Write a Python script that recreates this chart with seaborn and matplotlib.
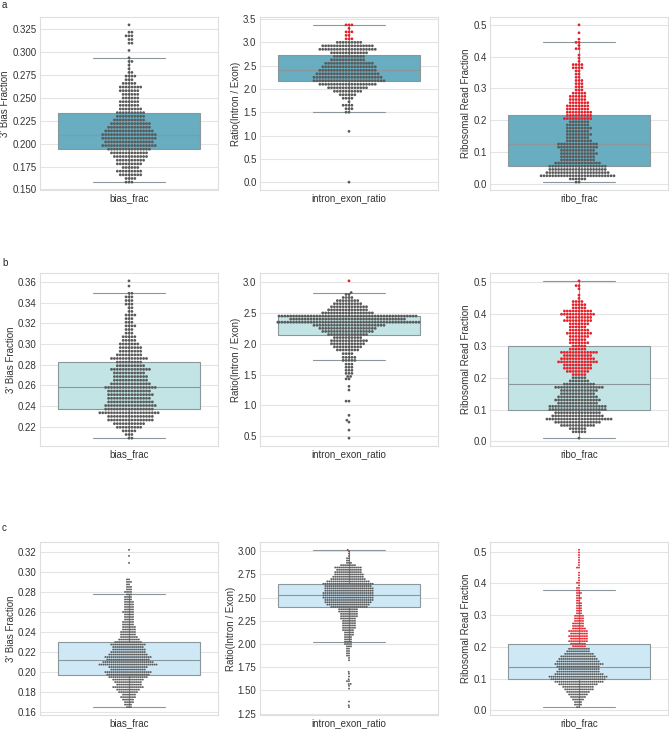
import numpy as np
import pandas as pd
import seaborn as sns
import matplotlib.pyplot as plt
from matplotlib.ticker import MultipleLocator

sns.set_style('whitegrid', {'axes.edgecolor': '#dedede', 'grid.color': '#e4e4e4'})
plt.rcParams['font.family'] = ['Liberation Sans', 'DejaVu Sans']
plt.rcParams['font.size'] = 7

# ---- data: swarm rows (value, number of samples at that value) ----
# row a
bias_a_vals = [0.158, 0.162, 0.166, 0.170, 0.174, 0.178, 0.182, 0.186, 0.190, 0.194,
               0.198, 0.202, 0.206, 0.210, 0.214, 0.218, 0.222, 0.226, 0.230, 0.234,
               0.238, 0.242, 0.246, 0.250, 0.254, 0.258, 0.262, 0.266, 0.270, 0.274,
               0.278, 0.282, 0.286, 0.290, 0.294, 0.302, 0.310, 0.314, 0.318, 0.322, 0.330]
bias_a_counts = [3, 4, 8, 9, 6, 9, 10, 12, 13, 15,
                 19, 17, 19, 19, 17, 15, 14, 11, 10, 10,
                 8, 7, 7, 6, 6, 7, 8, 5, 3, 4,
                 2, 1, 1, 2, 1, 1, 2, 2, 3, 2, 1]

intron_a_vals = [0.0, 1.09, 1.50, 1.575, 1.65, 1.725, 1.80, 1.875, 1.95, 2.025,
                 2.10, 2.175, 2.25, 2.325, 2.40, 2.475, 2.55, 2.625, 2.70, 2.775,
                 2.85, 2.925, 3.00, 3.075, 3.15, 3.225, 3.30, 3.375]
intron_a_counts = [1, 1, 2, 3, 4, 1, 4, 6, 10, 14,
                   20, 25, 24, 22, 20, 19, 17, 12, 11, 13,
                   20, 18, 9, 3, 2, 3, 1, 3]

ribo_a_vals = [0.005, 0.015, 0.025, 0.035, 0.045, 0.055, 0.065, 0.075, 0.085, 0.095,
               0.105, 0.115, 0.125, 0.135, 0.145, 0.155, 0.165, 0.175, 0.185, 0.195,
               0.205, 0.215, 0.225, 0.235, 0.245, 0.255, 0.265, 0.275, 0.285, 0.295,
               0.305, 0.315, 0.325, 0.335, 0.345, 0.355, 0.365, 0.375, 0.385, 0.395,
               0.405, 0.425, 0.435, 0.445, 0.455, 0.475, 0.500]
ribo_a_counts = [2, 6, 26, 22, 20, 20, 16, 12, 12, 13,
                 12, 14, 14, 9, 8, 9, 8, 9, 8, 7,
                 10, 9, 9, 8, 8, 7, 6, 6, 5, 3,
                 3, 3, 3, 2, 2, 2, 4, 4, 1, 1,
                 1, 2, 1, 2, 1, 1, 1]

# row b
bias_b_vals = [0.209, 0.2125, 0.216, 0.2195, 0.223, 0.2265, 0.230, 0.2335, 0.237, 0.2405,
               0.244, 0.2475, 0.251, 0.2545, 0.258, 0.2615, 0.265, 0.2685, 0.272, 0.2755,
               0.279, 0.2825, 0.286, 0.2895, 0.293, 0.2965, 0.300, 0.3035, 0.307, 0.3105,
               0.314, 0.3175, 0.321, 0.3245, 0.328, 0.3315, 0.335, 0.3385, 0.342, 0.3455,
               0.349, 0.356, 0.361]
bias_b_counts = [2, 3, 5, 9, 11, 16, 16, 21, 17, 18,
                 16, 15, 16, 15, 18, 14, 12, 12, 11, 14,
                 10, 9, 13, 9, 8, 8, 7, 5, 5, 3,
                 3, 4, 3, 3, 4, 2, 2, 3, 3, 3,
                 2, 1, 1]

intron_b_vals = [0.47, 0.60, 0.73, 0.76, 0.84, 1.07, 1.25, 1.31, 1.43, 1.47,
                 1.52, 1.57, 1.62, 1.67, 1.73, 1.78, 1.84, 1.90, 1.95, 2.00,
                 2.05, 2.10, 2.15, 2.20, 2.25, 2.30, 2.35, 2.40, 2.45, 2.50,
                 2.55, 2.60, 2.65, 2.70, 2.75, 2.80, 2.83, 3.02]
intron_b_counts = [1, 1, 1, 1, 1, 2, 1, 1, 2, 2,
                   3, 3, 3, 3, 5, 5, 4, 8, 10, 12,
                   13, 10, 14, 18, 20, 25, 50, 40, 48, 18,
                   14, 13, 10, 8, 4, 2, 1, 1]

ribo_b_vals = [0.01, 0.03, 0.04, 0.05, 0.06, 0.07, 0.08, 0.09, 0.10, 0.11,
               0.12, 0.13, 0.14, 0.15, 0.16, 0.17, 0.18, 0.19, 0.20, 0.21,
               0.22, 0.23, 0.24, 0.25, 0.26, 0.27, 0.28, 0.29, 0.30, 0.31,
               0.32, 0.33, 0.34, 0.35, 0.36, 0.37, 0.38, 0.39, 0.40, 0.41,
               0.42, 0.43, 0.44, 0.45, 0.46, 0.48, 0.49, 0.505]
ribo_b_counts = [1, 5, 6, 12, 16, 23, 18, 16, 20, 20,
                 14, 16, 14, 12, 13, 17, 11, 7, 5, 5,
                 8, 10, 10, 14, 12, 10, 13, 6, 5, 7,
                 6, 7, 9, 7, 6, 7, 10, 9, 12, 10,
                 5, 5, 4, 1, 1, 1, 2, 1]

# row c
bias_c_vals = [0.165, 0.1675, 0.170, 0.1725, 0.175, 0.1775, 0.180, 0.1825, 0.185, 0.1875,
               0.190, 0.1925, 0.195, 0.1975, 0.200, 0.2025, 0.205, 0.2075, 0.210, 0.2125,
               0.215, 0.2175, 0.220, 0.2225, 0.225, 0.2275, 0.230, 0.2325, 0.235, 0.2375,
               0.240, 0.2425, 0.245, 0.2475, 0.250, 0.2525, 0.255, 0.2575, 0.260, 0.2625,
               0.265, 0.2675, 0.270, 0.2725, 0.275, 0.2775, 0.280, 0.2825, 0.285, 0.2875,
               0.290, 0.2925, 0.309, 0.316, 0.322]
bias_c_counts = [3, 4, 5, 6, 8, 7, 10, 12, 16, 13,
                 14, 16, 20, 22, 24, 18, 20, 30, 26, 22,
                 24, 20, 18, 17, 16, 18, 14, 11, 9, 8,
                 8, 7, 7, 6, 6, 5, 5, 5, 6, 5,
                 5, 5, 5, 4, 4, 3, 4, 3, 3, 2,
                 3, 2, 1, 1, 1]

intron_c_vals = [1.32, 1.34, 1.38, 1.52, 1.55, 1.57, 1.60, 1.62, 1.65, 1.68,
                 1.70, 1.825, 1.85, 1.875, 1.90, 1.925, 1.95, 1.975, 2.00, 2.025,
                 2.05, 2.075, 2.10, 2.125, 2.15, 2.175, 2.20, 2.225, 2.25, 2.275,
                 2.30, 2.325, 2.35, 2.375, 2.40, 2.425, 2.45, 2.475, 2.50, 2.525,
                 2.55, 2.575, 2.60, 2.625, 2.65, 2.675, 2.70, 2.725, 2.75, 2.775,
                 2.80, 2.825, 2.85, 2.875, 2.90, 2.925, 2.95, 2.975, 3.00, 3.015]
intron_c_counts = [1, 1, 1, 1, 1, 2, 2, 1, 1, 1,
                   1, 1, 1, 2, 2, 2, 2, 3, 4, 4,
                   4, 4, 5, 5, 6, 7, 7, 7, 7, 8,
                   9, 9, 10, 10, 19, 22, 24, 25, 26, 26,
                   26, 25, 25, 24, 26, 22, 18, 16, 15, 14,
                   13, 14, 8, 3, 2, 2, 1, 1, 1, 1]

ribo_c_vals = [0.010, 0.018, 0.026, 0.034, 0.042, 0.050, 0.058, 0.066, 0.074, 0.082,
               0.090, 0.098, 0.106, 0.114, 0.122, 0.130, 0.138, 0.146, 0.154, 0.162,
               0.170, 0.178, 0.186, 0.194, 0.202, 0.210, 0.218, 0.226, 0.234, 0.242,
               0.250, 0.258, 0.266, 0.274, 0.282, 0.290, 0.298, 0.306, 0.314, 0.322,
               0.330, 0.338, 0.346, 0.354, 0.362, 0.370, 0.378, 0.386, 0.394, 0.402,
               0.410, 0.418, 0.426, 0.434, 0.450, 0.458, 0.466, 0.474, 0.482, 0.490,
               0.498, 0.506]
ribo_c_counts = [2, 4, 4, 6, 8, 10, 12, 15, 16, 20,
                 25, 28, 30, 25, 22, 21, 22, 25, 22, 20,
                 18, 15, 12, 11, 7, 8, 10, 9, 10, 9,
                 10, 7, 6, 6, 5, 5, 5, 3, 3, 3,
                 3, 3, 2, 3, 2, 3, 2, 2, 1, 2,
                 1, 1, 1, 1, 2, 1, 1, 1, 1, 1,
                 1, 1]

metric_names = ['bias_frac', 'intron_exon_ratio', 'ribo_frac']
y_labels = ["3' Bias Fraction", 'Ratio(Intron / Exon)', 'Ribosomal Read Fraction']
thresholds = [None, 3.0, 0.2]
row_letters = ['a', 'b', 'c']

rows = [
    [(bias_a_vals, bias_a_counts), (intron_a_vals, intron_a_counts), (ribo_a_vals, ribo_a_counts)],
    [(bias_b_vals, bias_b_counts), (intron_b_vals, intron_b_counts), (ribo_b_vals, ribo_b_counts)],
    [(bias_c_vals, bias_c_counts), (intron_c_vals, intron_c_counts), (ribo_c_vals, ribo_c_counts)],
]

# ---- styling ----
box_colors = ['#68adc0', '#c3e4e4', '#cfe8f6']
dot_sizes = [2.0, 2.0, 1.35]
tick_steps = [[0.025, 0.5, 0.1], [0.02, 0.5, 0.1], [0.02, 0.25, 0.1]]
W, H = 669, 730
col_left = [40, 260, 490]
row_top = [17, 273, 542]
ax_w, ax_h = 178, 173
letter_y = [5, 263, 528]

fig = plt.figure(figsize=(W / 100, H / 100), dpi=100)

for r in range(3):
    fig.text(2 / W, 1 - letter_y[r] / H, row_letters[r], fontsize=7, va='center', ha='left')
    for c in range(3):
        vals, counts = rows[r][c]
        y = np.repeat(vals, counts)
        thr = thresholds[c]
        flag = y > thr if thr is not None else np.zeros(len(y), dtype=bool)
        df = pd.DataFrame({'metric': metric_names[c], 'value': y, 'high': flag})

        ax = fig.add_axes([col_left[c] / W, 1 - (row_top[r] + ax_h) / H, ax_w / W, ax_h / H])
        sns.boxplot(data=df, x='metric', y='value', color=box_colors[r], saturation=1,
                    showfliers=False, linecolor='#8a989c', linewidth=0.8, ax=ax)
        sns.swarmplot(data=df, x='metric', y='value', hue='high', hue_order=[False, True],
                      palette={False: '#5a5a5a', True: '#e5222b'}, size=dot_sizes[r],
                      linewidth=0, legend=False, ax=ax)
        ax.set_xlabel('')
        ax.set_ylabel(y_labels[c], fontsize=7, color='#333333', labelpad=1.5)
        ax.yaxis.set_major_locator(MultipleLocator(tick_steps[r][c]))
        ax.tick_params(axis='y', length=0, pad=2.5, labelsize=7, colors='#333333')
        ax.tick_params(axis='x', length=0, pad=2.5, labelsize=7, colors='#333333')
        ax.grid(axis='x', visible=False)
        for s in ax.spines.values():
            s.set_color('#dedede')
            s.set_linewidth(0.8)

fig.savefig('out.png', dpi=100)
